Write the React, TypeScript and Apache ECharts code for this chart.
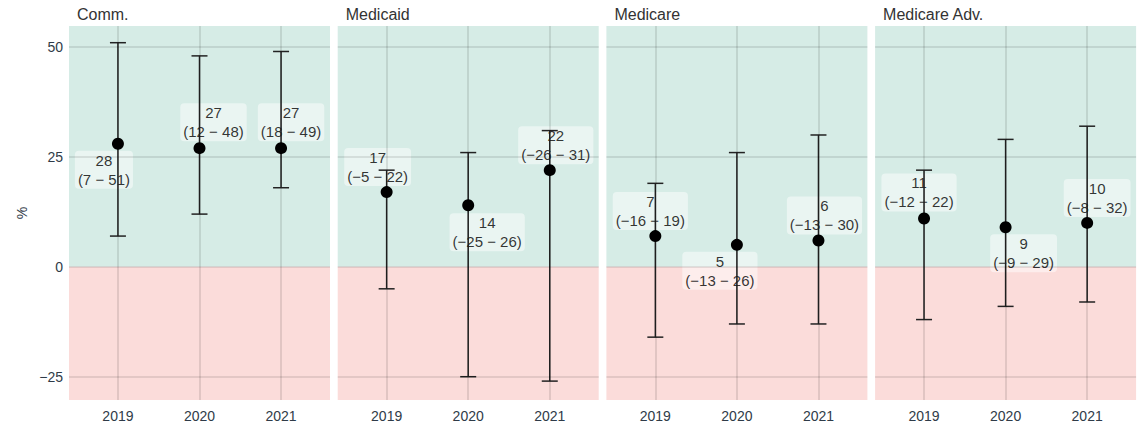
import { useEffect, useRef } from 'react';
import * as echarts from 'echarts';

// Payer groups (one facet each) and reporting years
const panels = ['Comm.', 'Medicaid', 'Medicare', 'Medicare Adv.'];
const years = ['2019', '2020', '2021'];

// Point estimates (%) and interval bounds, per panel, per year
const estimates = [
  [28, 27, 27],
  [17, 14, 22],
  [7, 5, 6],
  [11, 9, 10],
];
const lower = [
  [7, 12, 18],
  [-5, -25, -26],
  [-16, -13, -13],
  [-12, -9, -8],
];
const upper = [
  [51, 48, 49],
  [22, 26, 31],
  [19, 26, 30],
  [22, 29, 32],
];

const yTicks = [-25, 0, 25, 50];
const yMin = -30.3;
const yMax = 54.8;

// Pixel nudges that keep each value label clear of its marker
const labelNudge = [
  [[-14, 26], [14, -26], [10, -26]],
  [[-9, -25], [19, 27], [6, -25]],
  [[-5, -25], [-17, 26], [6, -25]],
  [[-5, -26], [18, 26], [10, -25]],
];

const FONT = '"Liberation Sans", Arial, Helvetica, sans-serif';
const GREEN = '#d6ece6';
const RED = '#fbdcda';
const GRID_LINE = 'rgba(0,0,0,0.13)';
const AXIS_TEXT = '#2f3b48';

const fmt = (v: number) => (v < 0 ? '\u2212' + Math.abs(v) : String(v));

const PANEL_LEFT = 69;
const PANEL_PITCH = 268.7;
const PANEL_WIDTH = 261;
const PANEL_TOP = 26;
const PANEL_HEIGHT = 374;

export default function App() {
  const ref = useRef<HTMLDivElement>(null);

  useEffect(() => {
    if (!ref.current) return;
    const chart = echarts.init(ref.current, undefined, { renderer: 'svg' });

    const xPos = years.map((_, j) => j + 1);
    const grids: any[] = [];
    const xAxes: any[] = [];
    const yAxes: any[] = [];
    const titles: any[] = [];
    const series: any[] = [];

    panels.forEach((name, i) => {
      const left = PANEL_LEFT + i * PANEL_PITCH;
      grids.push({ left, top: PANEL_TOP, width: PANEL_WIDTH, height: PANEL_HEIGHT });
      titles.push({
        text: name,
        left: left + 3,
        top: 1,
        textStyle: { fontSize: 16, fontWeight: 'normal', color: '#333', fontFamily: FONT },
      });
      xAxes.push({
        type: 'value',
        gridIndex: i,
        min: 0.4,
        max: 3.6,
        axisLine: { show: false },
        axisTick: { show: false },
        splitLine: { show: false },
        axisLabel: {
          customValues: xPos,
          formatter: (v: number) => years[Math.round(v) - 1] ?? '',
          color: AXIS_TEXT,
          fontSize: 14,
          fontFamily: FONT,
          margin: 9,
        },
      });
      yAxes.push({
        type: 'value',
        gridIndex: i,
        min: yMin,
        max: yMax,
        name: i === 0 ? '%' : '',
        nameLocation: 'middle',
        nameRotate: 90,
        nameGap: 40,
        nameTextStyle: { color: AXIS_TEXT, fontSize: 14, fontFamily: FONT },
        axisLine: { show: false },
        axisTick: { show: false },
        splitLine: { show: false },
        axisLabel: {
          show: i === 0,
          customValues: yTicks,
          formatter: (v: number) => fmt(v),
          color: AXIS_TEXT,
          fontSize: 14,
          fontFamily: FONT,
          margin: 6,
        },
      });

      // Background bands: gain above zero, loss below
      series.push({
        type: 'line',
        xAxisIndex: i,
        yAxisIndex: i,
        data: [],
        silent: true,
        z: 0,
        markArea: {
          silent: true,
          data: [
            [{ yAxis: 0, itemStyle: { color: GREEN } }, { yAxis: yMax }],
            [{ yAxis: yMin, itemStyle: { color: RED } }, { yAxis: 0 }],
          ],
        },
      });

      // Grid lines
      series.push({
        type: 'line',
        xAxisIndex: i,
        yAxisIndex: i,
        data: [],
        silent: true,
        z: 1,
        markLine: {
          silent: true,
          symbol: ['none', 'none'],
          label: { show: false },
          emphasis: { disabled: true },
          lineStyle: { color: GRID_LINE, width: 1.6, type: 'solid' },
          data: [
            ...yTicks.map((v) => ({ yAxis: v })),
            ...xPos.map((v) => ({ xAxis: v })),
          ],
        },
      });

      // Value labels with translucent boxes
      series.push({
        type: 'scatter',
        xAxisIndex: i,
        yAxisIndex: i,
        z: 2,
        silent: true,
        symbolSize: 1,
        itemStyle: { color: 'rgba(0,0,0,0)' },
        data: xPos.map((x, j) => ({
          value: [x, estimates[i][j]],
          label: {
            show: true,
            position: 'inside',
            offset: labelNudge[i][j],
            formatter: `${estimates[i][j]}\n(${fmt(lower[i][j])} \u2212 ${fmt(upper[i][j])})`,
            color: '#000',
            fontSize: 15,
            lineHeight: 19,
            fontFamily: FONT,
            align: 'center',
            backgroundColor: 'rgba(255,255,255,0.6)',
            borderRadius: 4,
            padding: [0, 3],
          },
        })),
      });

      // Interval whiskers
      series.push({
        type: 'custom',
        xAxisIndex: i,
        yAxisIndex: i,
        z: 3,
        silent: true,
        encode: { x: 0, y: [1, 2] },
        data: xPos.map((x, j) => [x, lower[i][j], upper[i][j]]),
        renderItem: (_params: any, api: any) => {
          const x = api.value(0);
          const lo = api.coord([x, api.value(1)]);
          const hi = api.coord([x, api.value(2)]);
          const cap = 8;
          const style = { stroke: '#222', lineWidth: 1.5 };
          return {
            type: 'group',
            children: [
              { type: 'line', shape: { x1: lo[0], y1: lo[1], x2: hi[0], y2: hi[1] }, style },
              { type: 'line', shape: { x1: lo[0] - cap, y1: lo[1], x2: lo[0] + cap, y2: lo[1] }, style },
              { type: 'line', shape: { x1: hi[0] - cap, y1: hi[1], x2: hi[0] + cap, y2: hi[1] }, style },
            ],
          };
        },
      });

      // Point estimates
      series.push({
        type: 'scatter',
        xAxisIndex: i,
        yAxisIndex: i,
        z: 4,
        silent: true,
        symbol: 'circle',
        symbolSize: 12,
        itemStyle: { color: '#000', opacity: 1 },
        data: xPos.map((x, j) => [x, estimates[i][j]]),
      });
    });

    chart.setOption({
      animation: false,
      backgroundColor: '#fff',
      textStyle: { fontFamily: FONT },
      title: titles,
      grid: grids,
      xAxis: xAxes,
      yAxis: yAxes,
      series,
    });

    return () => chart.dispose();
  }, []);

  return (
    <div
      ref={ref}
      style={{ position: 'fixed', left: 0, top: 0, width: 1148, height: 426 }}
    />
  );
}
